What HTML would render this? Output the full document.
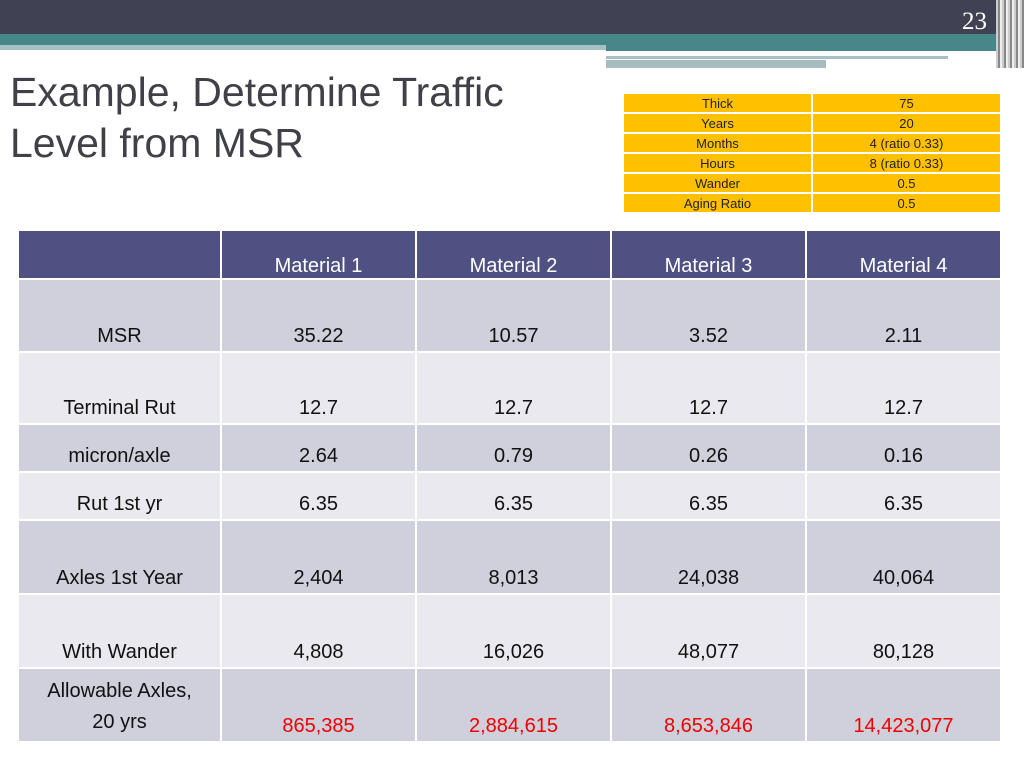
<!DOCTYPE html>
<html><head><meta charset="utf-8"><style>
body{margin:0;width:1024px;height:768px;position:relative;overflow:hidden;background:#fff;font-family:"Liberation Sans",sans-serif}
.abs{position:absolute}
table{border-collapse:collapse;position:absolute;table-layout:fixed}
#main td{border:2px solid #fff;text-align:center;vertical-align:bottom;padding:0 0 3px 0;font-size:20px;color:#111}
#main tr.h td{background:#4f5183;color:#fff;padding-bottom:0}
#main tr.a td{background:#cfd0db}
#main tr.b td{background:#e9e9ef}
#main td.red{color:#e00}
#small td{background:#ffc000;border:2px solid #fff;text-align:center;font-size:13px;color:#222;height:18px;padding:0;line-height:17px}
</style></head><body>
<div class="abs" style="left:0;top:0;width:1024px;height:34px;background:#414154"></div>
<div class="abs" style="left:0;top:34px;width:1000px;height:11px;background:#47878a"></div>
<div class="abs" style="left:0;top:45px;width:606px;height:5px;background:#a6c0c3"></div>
<div class="abs" style="left:606px;top:45px;width:394px;height:6px;background:#47878a"></div>
<div class="abs" style="left:606px;top:56px;width:342px;height:3px;background:#a6c0c3"></div>
<div class="abs" style="left:606px;top:60px;width:220px;height:8px;background:#a7bcbf"></div>
<div class="abs" style="left:996px;top:0;width:28px;height:68px;background:repeating-linear-gradient(90deg,#ccc 0 2px,#888 2px 4px,#eee 4px 6px)"></div>
<div class="abs" style="left:962px;top:8px;font-family:'Liberation Serif',serif;font-size:25px;color:#fff">23</div>
<div class="abs" style="left:10px;top:67px;font-size:41px;line-height:51px;color:#404048">Example, Determine Traffic<br>Level from MSR</div>
<table id="small" style="left:622px;top:92px;width:378px">
<colgroup><col style="width:189px"><col style="width:189px"></colgroup>
<tr><td>Thick</td><td>75</td></tr>
<tr><td>Years</td><td>20</td></tr>
<tr><td>Months</td><td>4 (ratio 0.33)</td></tr>
<tr><td>Hours</td><td>8 (ratio 0.33)</td></tr>
<tr><td>Wander</td><td>0.5</td></tr>
<tr><td>Aging Ratio</td><td>0.5</td></tr>
</table>
<table id="main" style="left:17px;top:229px;width:983px">
<colgroup><col style="width:203px"><col style="width:195px"><col style="width:195px"><col style="width:195px"><col style="width:195px"></colgroup>
<tr class="h" style="height:49px"><td></td><td>Material 1</td><td>Material 2</td><td>Material 3</td><td>Material 4</td></tr>
<tr class="a" style="height:73px"><td>MSR</td><td>35.22</td><td>10.57</td><td>3.52</td><td>2.11</td></tr>
<tr class="b" style="height:72px"><td>Terminal Rut</td><td>12.7</td><td>12.7</td><td>12.7</td><td>12.7</td></tr>
<tr class="a" style="height:48px"><td>micron/axle</td><td>2.64</td><td>0.79</td><td>0.26</td><td>0.16</td></tr>
<tr class="b" style="height:48px"><td>Rut 1st yr</td><td>6.35</td><td>6.35</td><td>6.35</td><td>6.35</td></tr>
<tr class="a" style="height:74px"><td>Axles 1st Year</td><td>2,404</td><td>8,013</td><td>24,038</td><td>40,064</td></tr>
<tr class="b" style="height:74px"><td>With Wander</td><td>4,808</td><td>16,026</td><td>48,077</td><td>80,128</td></tr>
<tr class="a" style="height:74px"><td style="line-height:31px">Allowable Axles,<br>20 yrs</td><td class="red">865,385</td><td class="red">2,884,615</td><td class="red">8,653,846</td><td class="red">14,423,077</td></tr>
</table>
</body></html>
